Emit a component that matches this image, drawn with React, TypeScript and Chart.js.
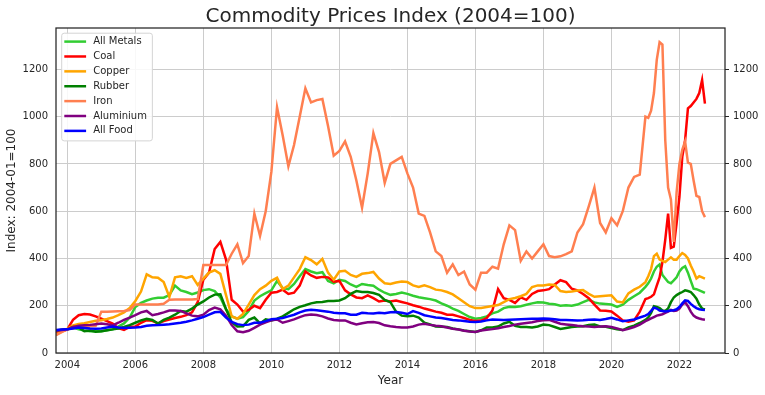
import React, { useEffect, useRef } from "react";
import { Chart, registerables } from "chart.js";

Chart.register(...registerables);

// ---------- data ----------
const seriesNames = ["All Metals", "Coal", "Copper", "Rubber", "Iron", "Aluminium", "All Food"];
const seriesColors = ["#32CD32", "#FF0000", "#FFA500", "#008000", "#FF7F50", "#800080", "#0000FF"];
const xTickYears = [2004, 2006, 2008, 2010, 2012, 2014, 2016, 2018, 2020, 2022];
const yTickValues = [0, 200, 400, 600, 800, 1000, 1200];

// observation dates (decimal years): every 2 months Sep 2003 – Jan 2021, then monthly Feb 2021 – Oct 2022
function monthRange(y0: number, m0: number, y1: number, m1: number, step: number): number[] {
  const out: number[] = [];
  for (let t = y0 * 12 + (m0 - 1); t <= y1 * 12 + (m1 - 1); t += step) out.push(t / 12);
  return out;
}
const dates: number[] = [...monthRange(2003, 9, 2021, 1, 2), ...monthRange(2021, 2, 2022, 10, 1)];

const allMetals = [
  92, 96,
  100, 108, 100, 95, 92, 93,
  92, 96, 100, 112, 125, 150,
  195, 212, 222, 230, 234, 234,
  245, 285, 265, 258, 249, 256,
  266, 270, 262, 235, 185, 155,
  145, 152, 178, 222, 240, 253,
  265, 305, 275, 270, 292, 325,
  355, 345, 338, 342, 305, 295,
  310, 305, 290, 280, 292, 288,
  285, 268, 255, 246, 250, 256,
  250, 242, 236, 232, 228, 222,
  210, 200, 188, 178, 165, 152,
  145, 148, 155, 168, 175, 190,
  196, 195, 198, 204, 210, 215,
  214, 208, 206, 200, 202, 200,
  205, 215, 225, 214, 209, 207,
  205, 195, 205, 225, 240, 255,
  280,
  295, 315, 345, 365, 375, 330, 315, 300, 295, 307, 320,
  345, 360, 367, 340, 305, 272, 270, 265, 260, 254,
];

const coal = [
  82, 92,
  100, 140, 160, 165, 163, 155,
  145, 135, 124, 105, 98, 110,
  112, 128, 139, 136, 125, 135,
  142, 148, 153, 160, 172, 215,
  310, 340, 440, 470, 395, 225,
  205, 175, 182, 200, 190, 225,
  255, 258, 268, 250, 255, 285,
  345, 328, 318, 322, 320, 302,
  305, 265, 248, 235, 232, 244,
  232, 218, 222, 218, 222, 216,
  210, 202, 196, 188, 182, 175,
  170, 162, 162, 155, 148, 140,
  135, 137, 148, 180, 270, 232,
  225, 212, 235, 225, 250, 262,
  265, 270, 290, 308, 300, 272,
  265, 250, 232, 205, 180, 179,
  176, 158, 138, 132, 138, 175,
  228,
  232, 238, 248, 285, 320, 385, 480, 590, 445, 450, 550,
  660, 830, 900, 1035, 1045, 1060, 1075, 1100, 1155, 1055,
];

const copper = [
  78, 90,
  102, 117, 123, 126, 131, 136,
  139, 144, 150, 160, 172, 190,
  220, 260, 333, 320, 318, 300,
  237, 320, 325, 318, 325, 288,
  315, 340, 350, 335, 245, 155,
  145, 165, 205, 245, 270, 285,
  305, 318, 270, 285, 320, 355,
  405, 393, 375, 398, 340, 310,
  345, 348, 330, 322, 335, 338,
  343, 315, 295, 292, 298, 302,
  300, 286, 279, 286, 279, 268,
  265, 258, 248, 232, 215, 198,
  190, 190, 195, 199, 203, 215,
  228, 233, 240, 250, 279, 286,
  286, 290, 288, 262, 258, 260,
  264, 266, 250, 238, 240, 242,
  244, 218, 214, 252, 268, 280,
  300,
  325, 355, 410, 420, 395, 390, 385, 395, 405, 395, 395,
  410, 423, 415, 400, 370, 345, 315, 325, 320, 315,
];

const rubber = [
  95, 98,
  100, 110, 108, 92, 95, 90,
  92, 96, 100, 104, 110, 118,
  128, 138, 145, 140, 125, 140,
  150, 162, 178, 175, 188, 205,
  218, 235, 247, 248, 185, 130,
  112, 113, 140, 150, 125, 142,
  138, 145, 155, 170, 185, 195,
  202, 210, 215, 216, 220, 220,
  222, 232, 250, 262, 258, 258,
  254, 246, 225, 215, 175, 158,
  155, 158, 150, 128, 121, 112,
  111, 110, 104, 100, 95, 92,
  89, 96, 108, 108, 112, 125,
  132, 115, 110, 110, 108, 112,
  120, 118, 110, 102, 106, 110,
  112, 113, 118, 120, 112, 111,
  106, 100, 97, 108, 116, 127,
  140,
  150, 170, 198, 195, 190, 180, 178, 188, 215, 235, 245,
  252, 258, 265, 262, 258, 245, 230, 205, 188, 184,
];

const iron = [
  75, 88,
  100, 105, 110, 110, 113, 115,
  175, 175, 176, 177, 178, 182,
  205, 205, 205, 205, 205, 208,
  225, 226, 226, 226, 226, 228,
  372, 372, 372, 372, 372, 420,
  460, 380, 410, 590, 495, 600,
  766, 1040, 920, 790, 880, 1000,
  1120, 1060, 1070, 1075, 960, 835,
  855, 895, 830, 730, 615, 760,
  930, 850, 720, 800, 815, 830,
  760, 700, 590, 580, 510, 430,
  410, 340, 375, 330, 345, 290,
  268, 340, 340, 365, 357, 460,
  540, 520, 390, 430, 400, 430,
  460, 410, 405, 409, 418, 430,
  510, 545, 620, 700, 550, 510,
  570, 540, 600, 700, 745, 755,
  1000,
  995, 1025, 1100, 1240, 1315, 1305, 900, 700, 650, 470, 680,
  800, 860, 895, 805, 800, 730, 665, 660, 600, 575,
];

const aluminium = [
  94, 97,
  100, 110, 115, 117, 119, 122,
  125, 122, 117, 128, 140, 150,
  160, 172, 178, 160, 165, 172,
  180, 180, 178, 168, 158, 155,
  162, 182, 192, 185, 158, 118,
  92, 88, 94, 106, 120, 130,
  138, 142, 128, 135, 142, 152,
  160, 163, 161, 155, 146, 140,
  138, 138, 128, 121, 126, 130,
  131, 127, 117, 113, 110, 108,
  108, 112, 120, 124, 119, 115,
  113, 108, 103, 99, 94, 91,
  89, 95, 98, 101, 105, 110,
  114, 120, 124, 127, 130, 135,
  139, 140, 132, 124, 121, 118,
  115, 113, 112, 110, 112, 113,
  110, 104, 96, 102, 110, 120,
  135,
  140, 146, 152, 158, 161, 164, 170, 175, 182, 178, 180,
  188, 205, 215, 198, 175, 158, 150, 146, 143, 141,
];

const allFood = [
  97, 99,
  100, 104, 108, 106, 104, 103,
  104, 108, 112, 108, 106, 107,
  108, 110, 115, 117, 118, 120,
  122, 125, 128, 132, 138, 145,
  152, 162, 172, 174, 150, 132,
  122, 118, 120, 128, 128, 135,
  143, 145, 148, 155, 162, 172,
  180, 183, 181, 178, 175, 170,
  168, 168, 162, 162, 170, 168,
  167, 170, 168, 172, 173, 170,
  165, 177, 170, 160, 155, 150,
  148, 144, 140, 138, 135, 132,
  131, 133, 138, 142, 141, 140,
  141, 142, 143, 144, 145, 145,
  146, 145, 143, 140, 140, 139,
  138, 139, 141, 142, 140, 144,
  149, 142, 134, 138, 142, 150,
  158,
  165, 178, 192, 188, 180, 178, 176, 178, 180, 181, 185,
  195, 210, 223, 220, 208, 198, 190, 185, 183, 182,
];

const seriesValues = [allMetals, coal, copper, rubber, iron, aluminium, allFood];

// ---------- styling ----------
const TEXT = "#262626";
const GRID = "#cccccc";
const SPINE = "#262626";
const X_MIN = 2003 + 8 / 12;
const X_MAX = 2023.34;
const Y_MAX = 1375;

const framePlugin = {
  id: "frame",
  afterDatasetsDraw(chart: any) {
    const { ctx, chartArea } = chart;
    ctx.save();
    ctx.strokeStyle = SPINE;
    ctx.lineWidth = 1.25;
    ctx.strokeRect(chartArea.left, chartArea.top, chartArea.right - chartArea.left, chartArea.bottom - chartArea.top);
    ctx.restore();
  },
};

const legendPlugin = {
  id: "boxLegend",
  afterDraw(chart: any) {
    const { ctx, chartArea } = chart;
    ctx.save();
    ctx.font = '10px "DejaVu Sans"';
    const rowH = 14.88;
    const x0 = chartArea.left + 5.7;
    const y0 = chartArea.top + 5.2;
    const textW = Math.max(...seriesNames.map((n) => ctx.measureText(n).width));
    const w = 31.5 + textW + 5.5;
    const h = 8.4 + rowH * (seriesNames.length - 1) + 10;
    const r = 2.5;
    ctx.beginPath();
    ctx.moveTo(x0 + r, y0);
    ctx.lineTo(x0 + w - r, y0);
    ctx.arcTo(x0 + w, y0, x0 + w, y0 + r, r);
    ctx.lineTo(x0 + w, y0 + h - r);
    ctx.arcTo(x0 + w, y0 + h, x0 + w - r, y0 + h, r);
    ctx.lineTo(x0 + r, y0 + h);
    ctx.arcTo(x0, y0 + h, x0, y0 + h - r, r);
    ctx.lineTo(x0, y0 + r);
    ctx.arcTo(x0, y0, x0 + r, y0, r);
    ctx.closePath();
    ctx.fillStyle = "rgba(255,255,255,0.85)";
    ctx.fill();
    ctx.strokeStyle = "#d4d4d4";
    ctx.lineWidth = 1;
    ctx.stroke();
    seriesNames.forEach((name, i) => {
      const cy = y0 + 8.4 + i * rowH;
      ctx.beginPath();
      ctx.moveTo(x0 + 2.6, cy);
      ctx.lineTo(x0 + 24.4, cy);
      ctx.strokeStyle = seriesColors[i];
      ctx.lineWidth = 2.5;
      ctx.stroke();
      ctx.fillStyle = TEXT;
      ctx.textBaseline = "middle";
      ctx.textAlign = "left";
      ctx.fillText(name, x0 + 31.5, cy);
    });
    ctx.restore();
  },
};

export default function App() {
  const ref = useRef<HTMLCanvasElement | null>(null);

  useEffect(() => {
    if (!ref.current) return;
    Chart.defaults.font.family = "'DejaVu Sans', sans-serif";
    Chart.defaults.color = TEXT;

    const datasets = seriesNames.map((name, i) => ({
      label: name,
      data: seriesValues[i].map((v, j) => ({ x: dates[j], y: v })),
      borderColor: seriesColors[i],
      backgroundColor: seriesColors[i],
      borderWidth: 2.5,
      pointRadius: 0,
      pointHoverRadius: 0,
      tension: 0,
      fill: false,
      order: seriesNames.length - i,
      yAxisID: "y",
    }));

    const yTicks = (s: any) => {
      s.ticks = yTickValues.map((v) => ({ value: v }));
    };

    const chart = new Chart(ref.current, {
      type: "line",
      data: { datasets },
      options: {
        responsive: false,
        animation: false,
        devicePixelRatio: 1,
        layout: { padding: 0 },
        events: [],
        scales: {
          x: {
            type: "linear",
            min: X_MIN,
            max: X_MAX,
            afterBuildTicks: (s: any) => {
              s.ticks = xTickYears.map((v) => ({ value: v }));
            },
            afterFit: (s: any) => {
              s.height = 42;
            },
            grid: { color: GRID, lineWidth: 1, drawTicks: false },
            border: { display: false },
            ticks: {
              padding: 6,
              color: TEXT,
              font: { size: 10 },
              maxRotation: 0,
              autoSkip: false,
              callback: (v: any) => String(v),
            },
            title: {
              display: true,
              text: "Year",
              color: TEXT,
              font: { size: 12 },
              padding: { top: 0, bottom: 7 },
            },
          },
          y: {
            type: "linear",
            position: "left",
            min: 0,
            max: Y_MAX,
            afterBuildTicks: yTicks,
            afterFit: (s: any) => {
              s.width = 56;
            },
            grid: { color: GRID, lineWidth: 1, drawTicks: false },
            border: { display: false },
            ticks: { padding: 8, color: TEXT, font: { size: 10 }, callback: (v: any) => String(v) },
            title: {
              display: true,
              text: "Index: 2004-01=100",
              color: TEXT,
              font: { size: 12 },
              padding: { top: 5, bottom: 0 },
            },
          },
          y2: {
            type: "linear",
            position: "right",
            min: 0,
            max: Y_MAX,
            afterBuildTicks: yTicks,
            afterFit: (s: any) => {
              s.width = 40;
            },
            grid: { drawOnChartArea: false, drawTicks: true, tickLength: 4, color: SPINE, lineWidth: 1 },
            border: { display: false },
            ticks: { padding: 4, color: TEXT, font: { size: 10 }, callback: (v: any) => String(v) },
          },
        },
        plugins: {
          legend: { display: false },
          tooltip: { enabled: false },
          title: {
            display: true,
            text: "Commodity Prices Index (2004=100)",
            color: TEXT,
            fullSize: false,
            font: { size: 20, weight: "normal", lineHeight: 1.1 },
            padding: { top: 6, bottom: 0 },
          },
        },
      } as any,
      plugins: [framePlugin, legendPlugin],
    });

    return () => chart.destroy();
  }, []);

  return (
    <div style={{ position: "absolute", left: 0, top: 0, width: 765, height: 395, background: "#ffffff" }}>
      <canvas ref={ref} width={765} height={395} style={{ display: "block", width: 765, height: 395 }} />
    </div>
  );
}
